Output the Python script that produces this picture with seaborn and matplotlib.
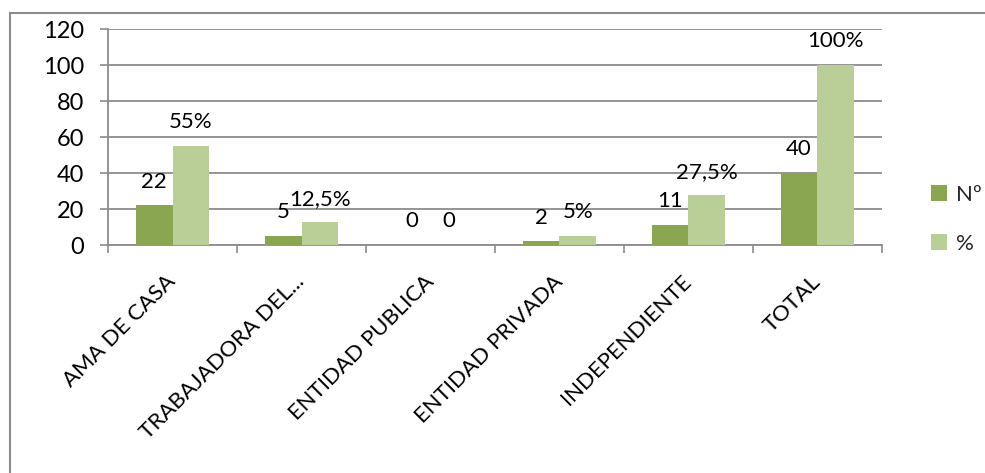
import matplotlib
matplotlib.use("Agg")
import matplotlib.pyplot as plt
from matplotlib.patches import Rectangle
from matplotlib.ticker import FixedLocator
import pandas as pd
import seaborn as sns

# Ocupación de las encuestadas
categorias = ["AMA DE CASA", "TRABAJADORA DEL...", "ENTIDAD PUBLICA",
              "ENTIDAD PRIVADA", "INDEPENDIENTE", "TOTAL"]
numero = [22, 5, 0, 2, 11, 40]
porcentaje = [55, 12.5, 0, 5, 27.5, 100]
etiquetas_numero = ["22", "5", "0", "2", "11", "40"]
etiquetas_porcentaje = ["55%", "12,5%", "0", "5%", "27,5%", "100%"]
series = ["Nº", "%"]
colores = ["#8BA651", "#BACF97"]
y_ticks = [0, 20, 40, 60, 80, 100, 120]

df = pd.DataFrame({
    "categoria": categorias * 2,
    "valor": numero + porcentaje,
    "serie": [series[0]] * len(categorias) + [series[1]] * len(categorias),
})

sns.set_theme(style="white")
plt.rcParams["font.family"] = ["Lato", "DejaVu Sans"]
tam = 16

fig = plt.figure(figsize=(9.85, 4.73), dpi=100)
ax = fig.add_axes([108 / 985, 1 - 245 / 473, (882 - 108) / 985, (245 - 29) / 473])

sns.barplot(data=df, x="categoria", y="valor", hue="serie", order=categorias,
            hue_order=series, palette=colores, width=0.57, gap=0,
            saturation=1, edgecolor="none", linewidth=0, ax=ax, zorder=3)

gris = "#8C8C8C"
ax.set_xlim(-0.5, len(categorias) - 0.5)
ax.set_ylim(0, 120)
ax.set_yticks(y_ticks)
ax.yaxis.grid(True, color=gris, linewidth=1.3, zorder=0)
ax.set_axisbelow(True)
for lado in ["top", "right"]:
    ax.spines[lado].set_visible(False)
for lado in ["left", "bottom"]:
    ax.spines[lado].set_color(gris)
    ax.spines[lado].set_linewidth(1.3)
ax.set_xlabel("")
ax.set_ylabel("")

ax.tick_params(axis="y", which="major", left=True, length=6, width=1.2,
               color=gris, labelsize=tam + 1, pad=11, labelcolor="black")
ax.tick_params(axis="x", which="major", bottom=False, length=0, labelsize=tam,
               labelcolor="black", pad=24)
ax.xaxis.set_minor_locator(FixedLocator([i - 0.5 for i in range(len(categorias) + 1)]))
ax.tick_params(axis="x", which="minor", bottom=True, length=6, width=1.2, color=gris)
for lbl in ax.get_xticklabels():
    lbl.set_rotation(45)
    lbl.set_ha("right")
    lbl.set_va("center")
    lbl.set_rotation_mode("anchor")

for contenedor, textos in zip(ax.containers, [etiquetas_numero, etiquetas_porcentaje]):
    ax.bar_label(contenedor, labels=textos, padding=10, fontsize=tam, color="black")

ax.legend(loc="center left", bbox_to_anchor=(1.052, 0.12), frameon=False,
          fontsize=tam, handlelength=0.7, handleheight=0.7, handletextpad=0.4,
          labelspacing=1.3, borderaxespad=0)

# marco exterior del gráfico
fig.patches.append(Rectangle((10 / 985, -0.2), 1.5, 1.2 - 13 / 473,
                             transform=fig.transFigure, fill=False,
                             edgecolor=gris, linewidth=1.5))

fig.savefig("out.png", dpi=100)
